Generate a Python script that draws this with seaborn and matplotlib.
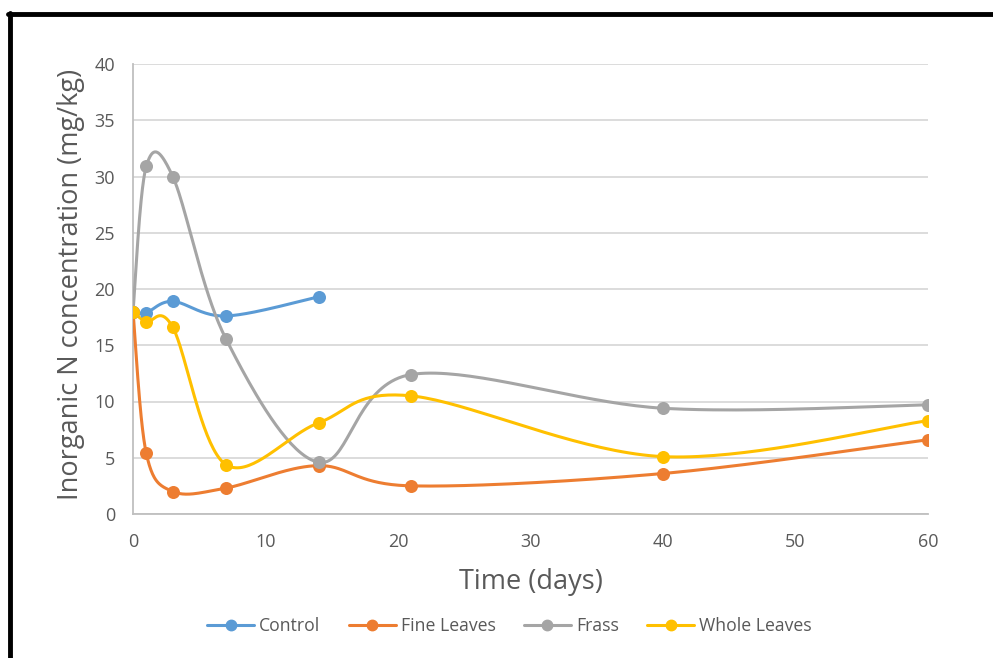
import numpy as np
import pandas as pd
import seaborn as sns
import matplotlib
matplotlib.use("Agg")
import matplotlib.pyplot as plt
from matplotlib.lines import Line2D

# ---- data ----
days_control = [0, 1, 3, 7, 14]
control = [18.0, 17.9, 18.9, 17.6, 19.3]
days_all = [0, 1, 3, 7, 14, 21, 40, 60]
fine_leaves = [18.0, 5.4, 2.0, 2.3, 4.3, 2.5, 3.6, 6.6]
frass = [18.0, 30.9, 30.0, 15.6, 4.6, 12.4, 9.4, 9.7]
whole_leaves = [18.0, 17.1, 16.6, 4.4, 8.1, 10.5, 5.1, 8.3]

series_names = ["Control", "Fine Leaves", "Frass", "Whole Leaves"]
colors = ["#5B9BD5", "#ED7D31", "#A5A5A5", "#FFC000"]
x_ticks = [0, 10, 20, 30, 40, 50, 60]
y_ticks = [0, 5, 10, 15, 20, 25, 30, 35, 40]


def smooth(xs, ys, n=40):
    """Catmull-Rom style Bezier smoothing (like spreadsheet 'smoothed line')."""
    xs = np.asarray(xs, float)
    ys = np.asarray(ys, float)
    P = np.column_stack([xs, ys])
    m = len(P)
    out = []
    for i in range(m - 1):
        p0 = P[i - 1] if i > 0 else P[i]
        p1 = P[i]
        p2 = P[i + 1]
        p3 = P[i + 2] if i + 2 < m else P[i + 1]
        c1 = p1 + (p2 - p0) / 6.0
        c2 = p2 - (p3 - p1) / 6.0
        t = np.linspace(0, 1, n)[:, None]
        seg = ((1 - t) ** 3) * p1 + 3 * ((1 - t) ** 2) * t * c1 + 3 * (1 - t) * t ** 2 * c2 + t ** 3 * p2
        out.append(seg if i == 0 else seg[1:])
    out = np.vstack(out)
    return out[:, 0], out[:, 1]


sns.set_theme(style="white")
plt.rcParams["font.family"] = ["Open Sans", "DejaVu Sans"]

fig = plt.figure(figsize=(9.93, 6.58), dpi=100)
ax = fig.add_axes([133 / 993, 1 - 514 / 658, (928 - 133) / 993, (514 - 64) / 658])

data = [(days_control, control), (days_all, fine_leaves), (days_all, frass), (days_all, whole_leaves)]
handles = []
for (xs, ys), name, col in zip(data, series_names, colors):
    sx, sy = smooth(xs, ys)
    sns.lineplot(x=sx, y=sy, sort=False, estimator=None, color=col, linewidth=2.2, ax=ax, zorder=3)
    sns.scatterplot(x=xs, y=ys, color=col, s=88, edgecolor=col, linewidth=0, ax=ax, zorder=4)
    handles.append(Line2D([0], [0], color=col, lw=2.2, marker="o", markersize=7.5, label=name))

ax.set_xlim(0, 60)
ax.set_ylim(0, 40)
ax.set_xticks(x_ticks)
ax.set_yticks(y_ticks)
ax.yaxis.grid(True, color="#D9D9D9", linewidth=1.3)
ax.xaxis.grid(False)
ax.set_axisbelow(True)
for s in ["top", "right"]:
    ax.spines[s].set_visible(False)
for s in ["left", "bottom"]:
    ax.spines[s].set_color("#BFBFBF")
    ax.spines[s].set_linewidth(1.3)
ax.tick_params(axis="both", colors="#595959", labelsize=13, length=0)
ax.tick_params(axis="x", pad=14)
ax.tick_params(axis="y", pad=13)
ax.set_xlabel("Time (days)", fontsize=19.5, color="#595959", labelpad=12)
ax.set_ylabel("Inorganic N concentration (mg/kg)", fontsize=19.5, color="#595959")
ax.yaxis.set_label_coords(-0.061, 0.511)

fig.legend(handles=handles, loc="center", bbox_to_anchor=(0.513, 1 - 626 / 658), ncol=4,
           frameon=False, fontsize=12.7, handlelength=2.67, columnspacing=1.6, handletextpad=0.28,
           labelcolor="#595959")

# black frame lines (top and left)
fig.add_artist(Line2D([8 / 993, 1.0], [1 - 14 / 658, 1 - 14 / 658], color="black", lw=3.5,
                      transform=fig.transFigure))
fig.add_artist(Line2D([10 / 993, 10 / 993], [0, 1 - 12.5 / 658], color="black", lw=3.5,
                      transform=fig.transFigure))

fig.savefig("out.png", dpi=100)
